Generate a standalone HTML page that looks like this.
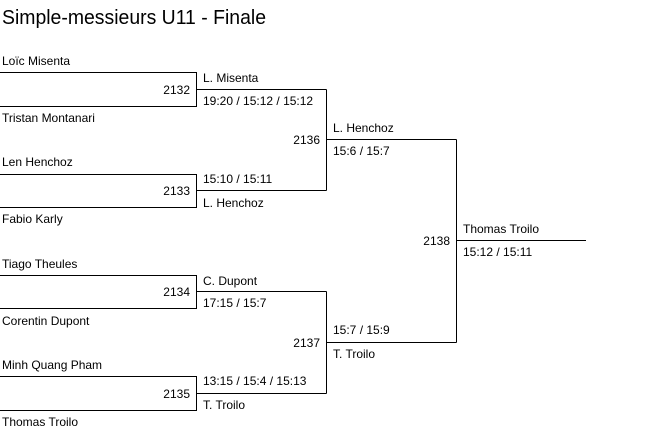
<!DOCTYPE html>
<html><head><meta charset="utf-8"><style>
html,body{margin:0;padding:0;background:#fff;width:653px;height:437px;overflow:hidden}
svg{display:block}
text{font-family:"Liberation Sans",Arial,sans-serif;font-size:12px;fill:#000}
.t{font-size:20px}
</style></head><body>
<svg width="653" height="437" viewBox="0 0 653 437" shape-rendering="crispEdges">
<text class="t" x="2" y="24" textLength="264" lengthAdjust="spacingAndGlyphs">Simple-messieurs U11 - Finale</text>
<g stroke="#000" stroke-width="1" fill="none">
<path d="M0 72.5H196.5V106.5H0"/>
<path d="M196.5 89.5H326.5"/>
<path d="M0 174.5H196.5V207.5H0"/>
<path d="M196.5 190.5H326.5"/>
<path d="M326.5 89.5V190.5"/>
<path d="M326.5 139.5H456.5"/>
<path d="M0 275.5H196.5V308.5H0"/>
<path d="M196.5 291.5H326.5"/>
<path d="M0 376.5H196.5V410.5H0"/>
<path d="M196.5 393.5H326.5"/>
<path d="M326.5 291.5V393.5"/>
<path d="M326.5 342.5H456.5"/>
<path d="M456.5 139.5V342.5"/>
<path d="M456.5 240.5H586"/>
</g>
<text x="2" y="65">Loïc Misenta</text>
<text x="2" y="122">Tristan Montanari</text>
<text x="2" y="166">Len Henchoz</text>
<text x="2" y="223">Fabio Karly</text>
<text x="2" y="268">Tiago Theules</text>
<text x="2" y="325">Corentin Dupont</text>
<text x="2" y="369">Minh Quang Pham</text>
<text x="2" y="426">Thomas Troilo</text>

<g text-anchor="end">
<text x="190" y="94">2132</text>
<text x="190" y="195">2133</text>
<text x="190" y="296">2134</text>
<text x="190" y="398">2135</text>
<text x="320" y="144">2136</text>
<text x="320" y="347">2137</text>
<text x="450" y="245">2138</text>
</g>

<text x="203" y="82">L. Misenta</text>
<text x="203" y="105">19:20 / 15:12 / 15:12</text>
<text x="203" y="183">15:10 / 15:11</text>
<text x="203" y="207">L. Henchoz</text>
<text x="203" y="285">C. Dupont</text>
<text x="203" y="307">17:15 / 15:7</text>
<text x="203" y="385">13:15 / 15:4 / 15:13</text>
<text x="203" y="409">T. Troilo</text>
<text x="333" y="132">L. Henchoz</text>
<text x="333" y="155">15:6 / 15:7</text>
<text x="333" y="334">15:7 / 15:9</text>
<text x="333" y="358">T. Troilo</text>
<text x="463" y="233">Thomas Troilo</text>
<text x="463" y="256">15:12 / 15:11</text>
</svg>
</body></html>
